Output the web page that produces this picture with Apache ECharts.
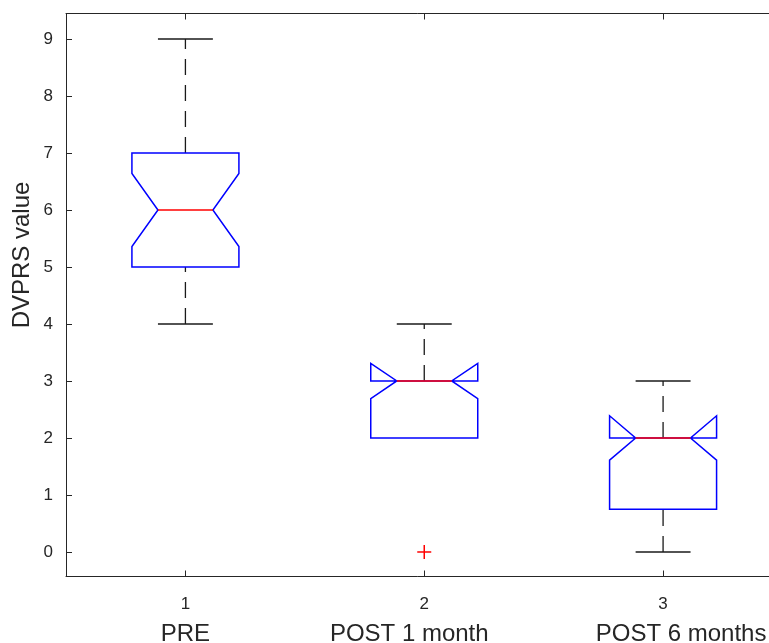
<!DOCTYPE html>
<html>
<head>
<meta charset="utf-8">
<script src="https://cdn.jsdelivr.net/npm/echarts@6/dist/echarts.min.js"></script>
<style>html,body{margin:0;padding:0;background:#fff;overflow:hidden;}#chart{width:769px;height:643px;}</style>
</head>
<body>
<div id="chart"></div>
<script>
// ---- data ----
const categories = ['PRE', 'POST 1 month', 'POST 6 months'];
const tickNumbers = ['1', '2', '3'];
const lowerWhisker = [4, 2, 0];
const q1 = [5, 2, 0.75];
const median = [6, 3, 2];
const q3 = [7, 3, 2];
const upperWhisker = [9, 4, 3];
const notchLow = [5.36, 2.69, 1.61];
const notchHigh = [6.64, 3.31, 2.39];
const outlierGroup = [1];
const outlierValue = [0];
const yTickValues = [0, 1, 2, 3, 4, 5, 6, 7, 8, 9];
const yAxisTitle = 'DVPRS value';

// ---- styles ----
const FONT = 'Liberation Sans, Arial, Helvetica, sans-serif';
const AXIS_COLOR = '#262626';
const BOX_HALF = 0.224;   // fraction of band width
const NOTCH_HALF = 0.115;
const CAP_HALF = 0.115;
const LABEL_PAD = [[0, 0, 0, 0], [0, 30, 0, 0], [0, 0, 0, 36]]; // label offsets as in the reference

const boxData = categories.map((c, i) => [i, lowerWhisker[i], q1[i], median[i], q3[i], upperWhisker[i], notchLow[i], notchHigh[i]]);
const outlierData = outlierGroup.map((g, i) => [g, outlierValue[i]]);

function renderBox(params, api) {
  const i = api.value(0);
  const lw = api.value(1), a = api.value(2), md = api.value(3), b = api.value(4), uw = api.value(5), nl = api.value(6), nh = api.value(7);
  const band = api.size([1, 0])[0];
  const cx = api.coord([i, md])[0];
  const y = v => api.coord([i, v])[1];
  const h = band * BOX_HALF, n = band * NOTCH_HALF, c = band * CAP_HALF;
  const whiskerStyle = { stroke: '#1a1a1a', lineWidth: 1.3, lineDash: [16, 10], fill: null };
  const capStyle = { stroke: '#1a1a1a', lineWidth: 1.3, fill: null };
  const children = [];
  if (lw < a) {
    children.push({ type: 'line', shape: { x1: cx, y1: y(lw), x2: cx, y2: y(a) }, style: whiskerStyle });
    children.push({ type: 'line', shape: { x1: cx - c, y1: y(lw), x2: cx + c, y2: y(lw) }, style: capStyle });
  }
  if (uw > b) {
    children.push({ type: 'line', shape: { x1: cx, y1: y(b), x2: cx, y2: y(uw) }, style: whiskerStyle });
    children.push({ type: 'line', shape: { x1: cx - c, y1: y(uw), x2: cx + c, y2: y(uw) }, style: capStyle });
  }
  children.push({ type: 'polygon', shape: { points: [
      [cx - h, y(a)], [cx - h, y(nl)], [cx - n, y(md)], [cx - h, y(nh)], [cx - h, y(b)],
      [cx + h, y(b)], [cx + h, y(nh)], [cx + n, y(md)], [cx + h, y(nl)], [cx + h, y(a)]
    ] }, style: { stroke: '#0000ff', lineWidth: 1.5, fill: null } });
  children.push({ type: 'line', shape: { x1: cx - n, y1: y(md), x2: cx + n, y2: y(md) }, style: { stroke: '#ff0000', lineWidth: 1.5 } });
  return { type: 'group', children: children };
}

function renderOutlier(params, api) {
  const p = api.coord([api.value(0), api.value(1)]);
  const s = 7;
  const st = { stroke: '#ff0000', lineWidth: 1.5 };
  return {
    type: 'group',
    children: [
      { type: 'line', shape: { x1: p[0] - s, y1: p[1], x2: p[0] + s, y2: p[1] }, style: st },
      { type: 'line', shape: { x1: p[0], y1: p[1] - s, x2: p[0], y2: p[1] + s }, style: st }
    ]
  };
}

const richStyles = {
  n: { fontSize: 17, lineHeight: 35, fontFamily: FONT, color: AXIS_COLOR }
};
categories.forEach((c, i) => {
  richStyles['c' + i] = { fontSize: 24, lineHeight: 26, fontFamily: FONT, color: AXIS_COLOR, padding: LABEL_PAD[i] };
});

const chart = echarts.init(document.getElementById('chart'));
chart.setOption({
  animation: false,
  backgroundColor: '#ffffff',
  grid: { left: 66, top: 13.5, width: 716.5, bottom: 66.5, containLabel: false, outerBoundsMode: 'none' },
  xAxis: [
    {
      type: 'category', data: categories, position: 'bottom', boundaryGap: true,
      axisLine: { show: true, onZero: false, lineStyle: { color: AXIS_COLOR, width: 1 } },
      axisTick: { show: true, inside: true, alignWithLabel: true, length: 6, lineStyle: { color: AXIS_COLOR } },
      axisLabel: {
        margin: 10, interval: 0,
        formatter: (v, idx) => '{n|' + tickNumbers[idx] + '}\n{c' + idx + '|' + v + '}',
        rich: richStyles
      },
      splitLine: { show: false }
    },
    {
      type: 'category', data: categories, position: 'top', boundaryGap: true,
      axisLine: { show: true, onZero: false, lineStyle: { color: AXIS_COLOR, width: 1 } },
      axisTick: { show: true, inside: true, alignWithLabel: true, length: 6, lineStyle: { color: AXIS_COLOR } },
      axisLabel: { show: false },
      splitLine: { show: false }
    }
  ],
  yAxis: {
    type: 'value', min: -0.43, max: 9.447,
    axisLine: { show: true, onZero: false, lineStyle: { color: AXIS_COLOR, width: 1 } },
    axisTick: { show: true, inside: true, length: 6, customValues: yTickValues, lineStyle: { color: AXIS_COLOR } },
    axisLabel: { show: true, margin: 13, customValues: yTickValues, fontSize: 17, fontFamily: FONT, color: AXIS_COLOR },
    splitLine: { show: false }
  },
  graphic: [
    {
      type: 'text', x: 22, y: 255, rotation: Math.PI / 2,
      style: { text: yAxisTitle, fontSize: 24, fontFamily: FONT, fill: AXIS_COLOR, align: 'center', verticalAlign: 'middle' }
    }
  ],
  series: [
    { type: 'custom', xAxisIndex: 0, renderItem: renderBox, data: boxData, encode: { x: 0, y: [1, 2, 3, 4, 5] }, silent: true, clip: false },
    { type: 'custom', xAxisIndex: 0, renderItem: renderOutlier, data: outlierData, encode: { x: 0, y: 1 }, silent: true }
  ]
});
</script>
</body>
</html>
